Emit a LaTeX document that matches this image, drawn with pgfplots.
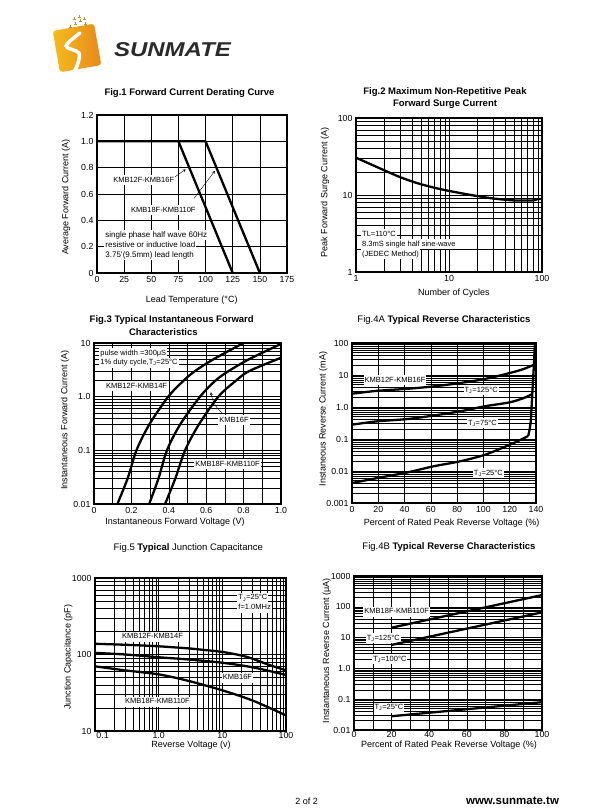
\documentclass[border=0pt]{standalone}
\usepackage{fontspec}
\setmainfont{Liberation Sans}
\usepackage{pgfplots}
\pgfplotsset{compat=1.18}

\definecolor{logoorange}{HTML}{E8891C}
\definecolor{logoyellow}{HTML}{F3BC1E}
\definecolor{logogreen}{HTML}{A09E3A}
\definecolor{logotext}{HTML}{2A2A2A}

\pgfplotsset{
  sheet/.style={scale only axis, anchor=south west,
    axis line style={line width=1.2pt},
    tick style={draw=none},
    major grid style={black, line width=0.5pt},
    minor grid style={black, line width=0.5pt},
    tick label style={font=\fontsize{8.8}{10}\selectfont},
    /pgf/number format/assume math mode=true},
  curve/.style={black, line width=2.3pt, no markers, line join=round},
}
\tikzset{
  note/.style={font=\fontsize{7.5}{9}\selectfont, fill=white, inner xsep=1pt,
    inner ysep=1.3pt, text height=5.8pt, text depth=1.6pt},
}

\begin{document}
\begin{tikzpicture}
\useasboundingbox (0pt,0pt) rectangle (610pt,810pt);
\fill[white] (0pt,0pt) rectangle (610pt,810pt);

% logo
\begin{scope}[shift={(77pt,762pt)}, rotate=10]
  \shade[left color=logoyellow, right color=logoorange, rounded corners=3pt]
    (-21pt,-21pt) rectangle (21pt,21pt);
\end{scope}
\draw[white, line width=3.5pt, line cap=round] plot[smooth] coordinates
  {(80pt,777pt) (66pt,764pt) (79pt,757pt) (77pt,744pt) (72pt,736pt)};
\foreach \px/\py in {70/783, 75/786, 80/789, 74/791, 79/793, 84/791, 85/786} {
  \draw[logogreen, line width=0.9pt] (\px pt-1.5pt,\py pt) -- (\px pt+1.5pt,\py pt)
    (\px pt,\py pt-1.5pt) -- (\px pt,\py pt+1.5pt);
}
\node[font=\bfseries\itshape\fontsize{20}{20}\selectfont, text=logotext, xscale=1.2]
  at (172.5pt,760.5pt) {SUNMATE};

% titles
\node[font=\bfseries\fontsize{9.5}{11}\selectfont] at (189.5pt,716.7pt)
  {Fig.1 Forward Current Derating Curve};
\node[font=\bfseries\fontsize{9.5}{11}\selectfont] at (445pt,718.3pt)
  {Fig.2 Maximum Non-Repetitive Peak};
\node[font=\bfseries\fontsize{9.5}{11}\selectfont] at (445pt,705.7pt)
  {Forward Surge Current};
\node[font=\bfseries\fontsize{9.5}{11}\selectfont] at (171.7pt,490pt)
  {Fig.3 Typical Instantaneous Forward};
\node[font=\bfseries\fontsize{9.5}{11}\selectfont, anchor=west] at (125.5pt,478.3pt)
  {Characteristics};
\node[font=\fontsize{9.5}{11}\selectfont] at (444pt,490pt)
  {Fig.4A \textbf{Typical Reverse Characteristics}};
\node[font=\fontsize{9.5}{11}\selectfont] at (188.3pt,262.3pt)
  {Fig.5 \textbf{Typical} Junction Capacitance};
\node[font=\fontsize{9.5}{11}\selectfont] at (449pt,262.7pt)
  {Fig.4B \textbf{Typical Reverse Characteristics}};

% axis labels
\begin{scope}[every node/.style={font=\fontsize{9}{10}\selectfont}]
\node at (191.7pt,510pt) {Lead Temperature (°C)};
\node[rotate=90] at (66pt,613pt) {Average Forward Current (A)};
\node at (453.8pt,516.7pt) {Number of Cycles};
\node[rotate=90] at (325pt,617.6pt) {Peak Forward Surge Current (A)};
\node at (175pt,288.3pt) {Instantaneous Forward Voltage (V)};
\node[rotate=90] at (65pt,390pt) {Instantaneous Forward Current (A)};
\node at (451.7pt,286.7pt) {Percent of Rated Peak Reverse Voltage (\%)};
\node[rotate=90] at (323.3pt,391pt) {Instaneous Reverse Current (mA)};
\node at (191pt,64.5pt) {Reverse Voltage (v)};
\node[rotate=90] at (68.3pt,152.7pt) {Junction Capacitance (pF)};
\node at (449pt,64.5pt) {Percent of Rated Peak Reverse Voltage (\%)};
\node[rotate=90] at (326.7pt,159.3pt) {Instantaneous Reverse Current (μA)};
\end{scope}

% footer
\node[font=\fontsize{9}{10}\selectfont] at (306.7pt,9pt) {2 of 2};
\node[font=\bfseries\fontsize{11.5}{12}\selectfont] at (512.5pt,9pt) {www.sunmate.tw};

% Fig.1
\begin{axis}[sheet, at={(97pt,537pt)}, width=190pt, height=158pt,
  xmin=0, xmax=175, ymin=0, ymax=1.2,
  xtick={0,25,50,75,100,125,150,175},
  ytick={0,0.2,0.4,0.6,0.8,1.0,1.2},
  yticklabels={0,0.2,0.4,0.6,0.8,1.0,1.2},
  grid=major]
\node[note] at (rel axis cs:0.246,0.589) {KMB12F-KMB16F};
\draw[-stealth, line width=0.4pt] (rel axis cs:0.411,0.609) -- (rel axis cs:0.467,0.656);
\node[note] at (rel axis cs:0.349,0.399) {KMB18F-KMB110F};
\draw[-stealth, line width=0.4pt] (rel axis cs:0.511,0.473) -- (rel axis cs:0.621,0.647);
\node[note, font=\fontsize{8}{9}\selectfont, anchor=west] at (rel axis cs:0.038,0.241) {single phase half wave 60Hz};
\node[note, font=\fontsize{8}{9}\selectfont, anchor=west] at (rel axis cs:0.038,0.177) {resistive or inductive load};
\node[note, font=\fontsize{8}{9}\selectfont, anchor=west] at (rel axis cs:0.038,0.114) {3.75'(9.5mm) lead length};
\addplot[curve] coordinates {(0,1) (100,1) (150,0)};
\addplot[curve] coordinates {(75,1) (125,0)};
\end{axis}

% Fig.2
\begin{axis}[sheet, at={(356pt,538pt)}, width=186pt, height=154pt,
  xmode=log, ymode=log, xmin=1, xmax=100, ymin=1, ymax=100,
  xtick={1,10,100}, xticklabels={1,10,100},
  ytick={1,10,100}, yticklabels={1,10,100},
  grid=both]
\node[note, anchor=west] at (rel axis cs:0.027,0.247) {TL=110°C};
\node[note, anchor=west] at (rel axis cs:0.027,0.182) {8.3mS single half sine-wave};
\node[note, anchor=west] at (rel axis cs:0.027,0.117) {(JEDEC Method)};
\addplot[curve, smooth] coordinates {
  (1,30.5) (2,21) (3,17) (4,15) (5,13.8) (7,12.4) (10,11.3) (15,10.3)
  (20,9.7) (30,9.0) (50,8.5) (80,8.5) (88,8.8) (100,8.9)};
\end{axis}

% Fig.3
\begin{axis}[sheet, at={(94pt,306pt)}, width=187pt, height=161pt,
  xmin=0, xmax=1, ymode=log, ymin=0.01, ymax=10,
  xtick={0,0.2,0.4,0.6,0.8,1}, xticklabels={0,0.2,0.4,0.6,0.8,1.0},
  minor x tick num=1,
  ytick={0.01,0.1,1,10}, yticklabels={0.01,0.1,1.0,10},
  grid=both]
\node[note, anchor=west] at (rel axis cs:0.028,0.936) {pulse width =300μS};
\node[note, anchor=west] at (rel axis cs:0.028,0.878) {1\% duty cycle,T\textsubscript{J}=25°C};
\node[note] at (rel axis cs:0.228,0.733) {KMB12F-KMB14F};
\node[note] at (rel axis cs:0.749,0.522) {KMB16F};
\draw[-stealth, line width=0.4pt] (rel axis cs:0.690,0.560) to[bend left=20] (rel axis cs:0.625,0.695);
\node[note] at (rel axis cs:0.714,0.248) {KMB18F-KMB110F};
\addplot[curve, smooth] coordinates {
  (0.125,0.01) (0.18,0.03) (0.227,0.1) (0.295,0.3) (0.397,1) (0.48,2)
  (0.54,3) (0.64,5) (0.80,10) (0.82,10.6)};
\addplot[curve, smooth] coordinates {
  (0.295,0.01) (0.345,0.03) (0.39,0.1) (0.46,0.3) (0.567,1) (0.65,2)
  (0.72,3) (0.83,5) (1.0,9.6)};
\addplot[curve, smooth] coordinates {
  (0.38,0.01) (0.435,0.03) (0.487,0.1) (0.56,0.3) (0.665,1) (0.76,2)
  (0.83,3) (1.0,5.3)};
\end{axis}

% Fig.4A
\begin{axis}[sheet, at={(352pt,307pt)}, width=184pt, height=160pt,
  xmin=0, xmax=140, ymode=log, ymin=0.001, ymax=100,
  xtick={0,20,40,60,80,100,120,140},
  ytick={0.001,0.01,0.1,1,10,100}, yticklabels={0.001,0.01,0.1,1.0,10,100},
  grid=both]
\node[note] at (rel axis cs:0.234,0.769) {KMB12F-KMB16F};
\node[note] at (rel axis cs:0.702,0.706) {T\textsubscript{J}=125°C};
\node[note] at (rel axis cs:0.709,0.498) {T\textsubscript{J}=75°C};
\node[note] at (rel axis cs:0.741,0.186) {T\textsubscript{J}=25°C};
\addplot[curve, smooth] coordinates {
  (0,2.6) (19,3.2) (42,3.7) (62,4.4) (82,5.6) (101,7.5) (120,11.5)
  (130.6,15.4) (138.5,21)};
\addplot[curve, smooth] coordinates {
  (0,0.28) (19,0.356) (42,0.42) (62,0.54) (82,0.73) (101,1.05) (120,1.4)
  (130.6,1.9) (136.8,2.5)};
\addplot[curve, smooth] coordinates {
  (0,0.0042) (19,0.006) (42,0.009) (62,0.014) (82,0.02) (101,0.032)
  (120,0.066) (130.6,0.105) (134.1,0.125)};
\addplot[curve] coordinates {
  (134.1,0.125) (135.2,0.2) (136,0.35) (137.2,2.7) (138.5,24) (139.2,110)};
\end{axis}

% Fig.5
\begin{axis}[sheet, at={(95pt,79pt)}, width=191pt, height=153pt,
  xmode=log, ymode=log, xmin=0.1, xmax=100, ymin=10, ymax=1000,
  xtick={0.1,1,10,100}, xticklabels={\makebox[0pt][l]{\,0.1},1.0,10,100},
  xticklabel style={yshift=2.5pt},
  ytick={10,100,1000}, yticklabels={10,100,1000},
  grid=both]
\node[note, anchor=west] at (rel axis cs:0.745,0.871) {T\textsubscript{J}=25°C};
\node[note, anchor=west] at (rel axis cs:0.745,0.806) {f=1.0MHz};
\node[note] at (rel axis cs:0.301,0.616) {KMB12F-KMB14F};
\node[note] at (rel axis cs:0.746,0.348) {KMB16F};
\node[note] at (rel axis cs:0.327,0.192) {KMB18F-KMB110F};
\addplot[curve, smooth] coordinates {
  (0.1,138) (0.3,134) (1,128) (3,120) (5,115) (10,108) (20,97) (30,88)
  (50,75) (100,62)};
\addplot[curve, smooth] coordinates {
  (0.1,105) (0.3,100) (1,92) (3,86) (10,78) (30,68) (100,54)};
\addplot[curve, smooth] coordinates {
  (0.1,70) (0.3,62) (1,55) (3,45) (10,34) (30,25) (100,16)};
\end{axis}

% Fig.4B
\begin{axis}[sheet, at={(354pt,80pt)}, width=188pt, height=154pt,
  xmin=0, xmax=100, ymode=log, ymin=0.01, ymax=1000,
  xtick={0,20,40,60,80,100}, minor x tick num=1,
  xticklabel style={yshift=2.5pt},
  ytick={0.01,0.1,1,10,100,1000}, yticklabels={0.01,0.1,1.0,10,100,1000},
  grid=both]
\node[note] at (rel axis cs:0.227,0.768) {KMB18F-KMB110F};
\node[note] at (rel axis cs:0.156,0.595) {T\textsubscript{J}=125°C};
\node[note] at (rel axis cs:0.191,0.461) {T\textsubscript{J}=100°C};
\node[note] at (rel axis cs:0.186,0.145) {T\textsubscript{J}=25°C};
\addplot[curve] coordinates {(20,21) (100,240)};
\addplot[curve] coordinates {(20,5.8) (100,66)};
\addplot[curve] coordinates {(20,0.028) (100,0.08)};
\end{axis}
\end{tikzpicture}
\end{document}
